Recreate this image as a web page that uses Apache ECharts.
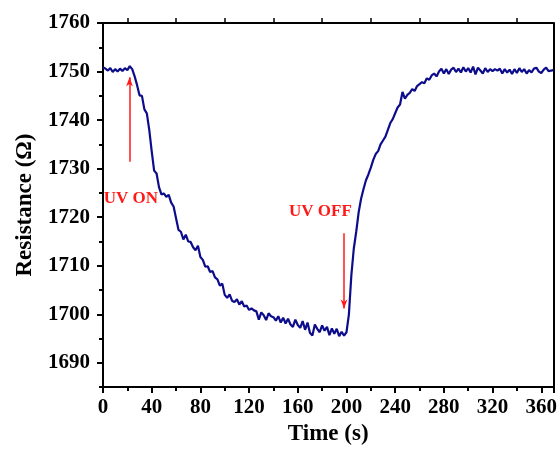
<!DOCTYPE html>
<html>
<head>
<meta charset="utf-8">
<script src="https://cdn.jsdelivr.net/npm/echarts@6/dist/echarts.min.js"></script>
<style>
  html, body { margin: 0; padding: 0; background: #fff; }
  #chart { width: 560px; height: 451px; }
</style>
</head>
<body>
<div id="chart"></div>
<script>
// time (s)
const times = [
  0, 2, 4, 6, 8, 10, 12, 14, 16, 18, 20, 22, 24, 26, 28, 30, 32, 34, 36, 38,
  40, 42, 44, 46, 48, 50, 52, 54, 56, 58, 60, 62, 64, 66, 68, 70, 72, 74, 76, 78,
  80, 82, 84, 86, 88, 90, 92, 94, 96, 98, 100, 102, 104, 106, 108, 110, 112, 114, 116, 118,
  120, 122, 124, 126, 128, 130, 132, 134, 136, 138, 140, 142, 144, 146, 148, 150, 152, 154, 156, 158,
  160, 162, 164, 166, 168, 170, 172, 174, 176, 178, 180, 182, 184, 186, 188, 190, 192, 194, 196, 198,
  200, 202, 204, 206, 208, 210, 212, 214, 216, 218, 220, 222, 224, 226, 228, 230, 232, 234, 236, 238,
  240, 242, 244, 246, 248, 250, 252, 254, 256, 258, 260, 262, 264, 266, 268, 270, 272, 274, 276, 278,
  280, 282, 284, 286, 288, 290, 292, 294, 296, 298, 300, 302, 304, 306, 308, 310, 312, 314, 316, 318,
  320, 322, 324, 326, 328, 330, 332, 334, 336, 338, 340, 342, 344, 346, 348, 350, 352, 354, 356, 358,
  360, 362, 364, 366, 368, 370
];

// resistance (Ω)
const resistance = [
  1750.9, 1750.6, 1750.2, 1750.7, 1749.9, 1750.5, 1750.0, 1750.6, 1750.1, 1750.7, 1750.3, 1751.1, 1750.5, 1749.0, 1747.2, 1745.1, 1745.0, 1742.2, 1741.4, 1738.0,
  1733.6, 1729.6, 1729.0, 1726.2, 1724.7, 1724.9, 1724.2, 1724.6, 1723.0, 1722.2, 1719.8, 1717.4, 1717.0, 1715.4, 1716.4, 1715.0, 1714.9, 1713.8, 1713.2, 1714.1,
  1711.8, 1711.2, 1709.8, 1709.9, 1708.7, 1708.9, 1707.6, 1707.2, 1705.9, 1706.3, 1704.0, 1703.4, 1704.1, 1702.8, 1702.5, 1703.1, 1702.0, 1702.7, 1701.6, 1701.8,
  1700.9, 1701.2, 1700.8, 1700.6, 1698.9, 1700.4, 1699.8, 1698.8, 1700.2, 1699.6, 1699.4, 1698.7, 1699.6, 1698.3, 1699.3, 1698.1, 1699.1, 1697.9, 1697.4, 1698.9,
  1697.8, 1697.2, 1698.6, 1696.8, 1698.3, 1696.2, 1695.6, 1697.9, 1697.0, 1696.3, 1697.7, 1696.6, 1697.4, 1695.7, 1697.1, 1696.0, 1697.0, 1695.5, 1696.4, 1695.6,
  1696.3, 1700.0, 1708.0, 1713.5, 1717.0, 1721.0, 1723.8, 1725.8, 1727.6, 1728.8, 1730.2, 1731.8, 1733.0, 1733.6, 1735.0, 1735.8, 1736.6, 1738.0, 1739.4, 1740.2,
  1741.4, 1742.6, 1743.2, 1745.8, 1744.4, 1745.2, 1745.6, 1746.4, 1746.0, 1747.0, 1747.4, 1747.8, 1747.6, 1748.6, 1748.3, 1749.2, 1749.6, 1749.0, 1750.0, 1750.6,
  1749.6, 1750.5, 1749.5, 1750.4, 1750.8, 1749.9, 1750.6, 1749.8, 1750.9, 1750.0, 1750.7, 1749.8, 1751.0, 1749.4, 1750.8, 1750.2, 1749.6, 1750.7, 1749.9, 1750.5,
  1750.1, 1750.5, 1750.2, 1750.6, 1749.6, 1750.5, 1749.8, 1750.4, 1749.5, 1750.5, 1749.7, 1750.7, 1749.9, 1750.5, 1749.6, 1750.3, 1749.8, 1750.6, 1750.8, 1750.0,
  1749.7, 1750.4, 1750.8, 1750.1, 1750.2, 1750.3
];

// tick labels / tick positions
const yLabels = [1690, 1700, 1710, 1720, 1730, 1740, 1750, 1760];
const yMinorTicks = [1685, 1695, 1705, 1715, 1725, 1735, 1745, 1755];

// annotations (data coordinates)
const uvOnArrow = [[21.8, 1731.4], [21.8, 1748.8]];
const uvOffArrow = [[198, 1716.7], [198, 1701.2]];
const uvOnText = [0.6, 1723.8];
const uvOffText = [152.8, 1721.1];

const FONT = '"Liberation Serif", "Times New Roman", serif';

const chart = echarts.init(document.getElementById('chart'));

const option = {
  animation: false,
  grid: { left: 103, right: 4, top: 23, bottom: 61 },
  xAxis: [
    {
      type: 'value',
      min: 0,
      max: 370,
      interval: 40,
      name: 'Time (s)',
      nameLocation: 'middle',
      nameGap: 33,
      nameTextStyle: { fontFamily: FONT, fontWeight: 'bold', fontSize: 23, color: '#000' },
      axisLine: { show: true, onZero: false, lineStyle: { color: '#000', width: 2 } },
      axisTick: { show: true, length: 6, lineStyle: { color: '#000', width: 2 } },
      minorTick: { show: true, splitNumber: 2, length: 4, lineStyle: { color: '#000', width: 2 } },
      axisLabel: { fontFamily: FONT, fontWeight: 'bold', fontSize: 21, color: '#000', margin: 10, showMaxLabel: false },
      splitLine: { show: false }
    },
    {
      type: 'value',
      position: 'top',
      min: 0,
      max: 370,
      interval: 40,
      axisLine: { show: true, onZero: false, lineStyle: { color: '#000', width: 2 } },
      axisTick: { show: false },
      minorTick: { show: true, splitNumber: 2, length: 5, lineStyle: { color: '#000', width: 1.5 } },
      axisLabel: { show: false },
      splitLine: { show: false }
    }
  ],
  yAxis: [
    {
      type: 'value',
      min: 1685,
      max: 1760,
      name: 'Resistance (Ω)',
      nameLocation: 'middle',
      nameGap: 66,
      nameTextStyle: { fontFamily: FONT, fontWeight: 'bold', fontSize: 23, color: '#000' },
      axisLine: { show: true, onZero: false, lineStyle: { color: '#000', width: 2 } },
      axisTick: { show: true, length: 6, customValues: yLabels, lineStyle: { color: '#000', width: 2 } },
      axisLabel: {
        fontFamily: FONT, fontWeight: 'bold', fontSize: 21, color: '#000', margin: 13,
        customValues: yLabels,
        formatter: (v) => String(v)
      },
      splitLine: { show: false }
    },
    {
      type: 'value',
      position: 'left',
      min: 1685,
      max: 1760,
      axisLine: { show: false },
      axisTick: { show: true, length: 4, customValues: yMinorTicks, lineStyle: { color: '#000', width: 2 } },
      axisLabel: { show: false },
      splitLine: { show: false }
    },
    {
      type: 'value',
      position: 'right',
      min: 1685,
      max: 1760,
      axisLine: { show: true, onZero: false, lineStyle: { color: '#000', width: 2 } },
      axisTick: { show: false },
      axisLabel: { show: false },
      splitLine: { show: false }
    }
  ],
  series: [
    {
      type: 'line',
      data: times.map((t, i) => [t, resistance[i]]),
      showSymbol: false,
      lineStyle: { color: '#0d0d8c', width: 2.2 },
      itemStyle: { color: '#0d0d8c' },
      markLine: {
        silent: true,
        symbol: ['none', 'arrow'],
        symbolSize: [5, 9],
        label: { show: false },
        lineStyle: { color: '#ff1a1a', width: 1.5, type: 'solid' },
        data: [
          [{ coord: uvOnArrow[0] }, { coord: uvOnArrow[1] }],
          [{ coord: uvOffArrow[0] }, { coord: uvOffArrow[1] }]
        ]
      }
    }
  ]
};

chart.setOption(option);

const onPos = chart.convertToPixel({ gridIndex: 0 }, uvOnText);
const offPos = chart.convertToPixel({ gridIndex: 0 }, uvOffText);
const textStyle = { fontFamily: FONT, fontWeight: 'bold', fontSize: 17, fill: '#ff1a1a', verticalAlign: 'middle' };

chart.setOption({
  graphic: [
    { type: 'text', x: onPos[0], y: onPos[1], style: Object.assign({ text: 'UV ON' }, textStyle) },
    { type: 'text', x: offPos[0], y: offPos[1], style: Object.assign({ text: 'UV OFF' }, textStyle) }
  ]
});
</script>
</body>
</html>
